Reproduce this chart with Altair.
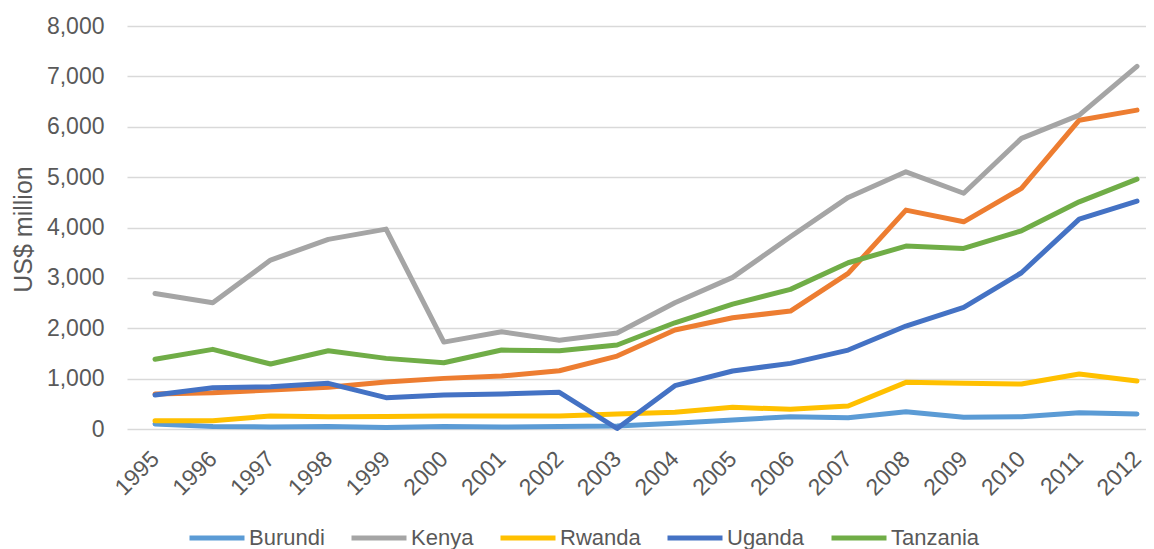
import altair as alt
import pandas as pd

years = list(range(1995, 2013))

series_names = ["Burundi", "Other", "Kenya", "Rwanda", "Uganda", "Tanzania"]
legend_names = ["Burundi", "Kenya", "Rwanda", "Uganda", "Tanzania"]
colors = ["#5B9BD5", "#ED7D31", "#A5A5A5", "#FFC000", "#4472C4", "#70AD47"]

burundi = [100, 50, 40, 50, 30, 50, 40, 50, 60, 112, 179, 244, 224, 343, 232, 244, 323, 298]
other = [694, 720, 774, 827, 933, 1005, 1052, 1157, 1448, 1964, 2208, 2341, 3089, 4345, 4113, 4775, 6130, 6330]
kenya = [2690, 2505, 3353, 3765, 3968, 1725, 1930, 1760, 1905, 2506, 3010, 3815, 4597, 5105, 4680, 5770, 6230, 7200]
rwanda = [165, 165, 258, 245, 250, 260, 258, 260, 298, 331, 430, 391, 456, 926, 906, 893, 1091, 952]
uganda = [675, 820, 840, 906, 622, 675, 694, 728, 10, 860, 1151, 1303, 1567, 2044, 2414, 3102, 4167, 4524]
tanzania = [1383, 1581, 1290, 1554, 1402, 1316, 1567, 1554, 1667, 2109, 2480, 2772, 3300, 3631, 3585, 3935, 4510, 4960]

values = [burundi, other, kenya, rwanda, uganda, tanzania]

rows = []
for order, (name, vals) in enumerate(zip(series_names, values)):
    for y, v in zip(years, vals):
        rows.append({"year": y, "value": v, "series": name, "order": order})
df = pd.DataFrame(rows)

FONT = "Liberation Sans"
TXT = "#595959"

chart = alt.Chart(df).mark_line(
    strokeWidth=5, strokeCap="round", strokeJoin="round"
).encode(
    x=alt.X(
        "year:Q",
        scale=alt.Scale(domain=[1994.515, 2012.156], nice=False, zero=False),
        axis=alt.Axis(
            values=years, format="d", labelAngle=-45, labelAlign="right",
            labelBaseline="middle", ticks=False, domain=False, grid=False,
            labelPadding=26, labelFontSize=23, labelColor=TXT, labelFont=FONT,
            title=None, labelFlush=False, labelOverlap=False,
        ),
    ),
    y=alt.Y(
        "value:Q",
        scale=alt.Scale(domain=[0, 8000], nice=False),
        axis=alt.Axis(
            values=list(range(0, 8001, 1000)), format=",d", grid=True,
            gridColor="#D9D9D9", gridWidth=1.5, domain=False, ticks=False,
            labelPadding=23, labelFontSize=23, labelColor=TXT, labelFont=FONT,
            title="US$ million", titleFontSize=25, titleFontWeight="normal",
            titleColor=TXT, titleFont=FONT, titleAngle=-90, titleX=-104,
            titleY=203, titleAlign="center", titleBaseline="middle",
        ),
    ),
    color=alt.Color(
        "series:N",
        scale=alt.Scale(domain=series_names, range=colors),
        legend=alt.Legend(
            values=legend_names, title=None, orient="none", direction="horizontal",
            legendX=60, legendY=482, symbolType="stroke", symbolSize=3025,
            symbolStrokeWidth=5, labelFontSize=22, labelColor=TXT, labelFont=FONT,
            labelOffset=2, columnPadding=16, padding=0, gridAlign="each",
        ),
    ),
    detail="order:O",
).properties(
    width=1019,
    height=403,
    autosize=alt.AutoSizeParams(type="none"),
    padding={"left": 119, "top": 18, "right": 0, "bottom": 120},
).configure_view(stroke=None)

chart.save("out.html", embed_options={"renderer": "svg", "actions": False})
